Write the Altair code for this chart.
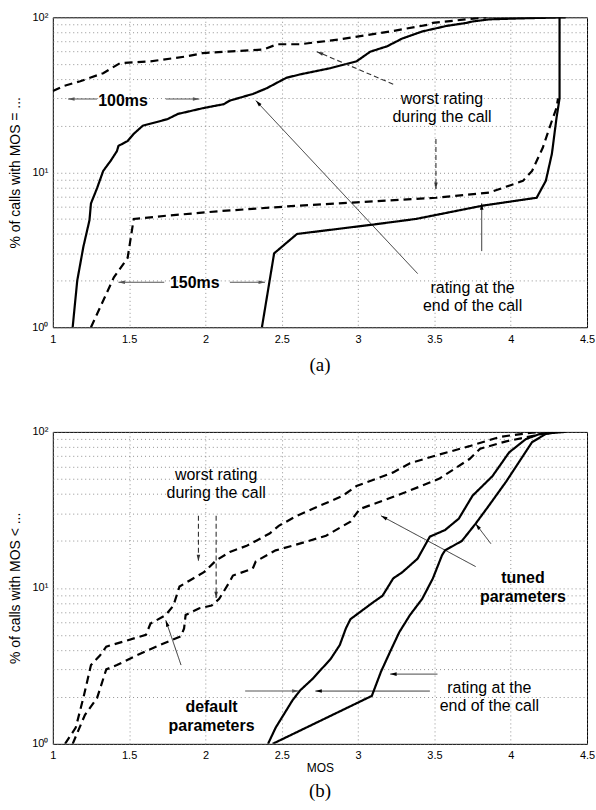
import math
import altair as alt
import pandas as pd

# ---------------- data ----------------
# panel (a)
a_w100_x = [1.0, 1.07, 1.18, 1.33, 1.44, 1.64, 1.88, 1.98, 2.38, 2.47, 2.62, 2.88, 3.21, 3.47, 3.49, 3.71, 3.8, 3.84]
a_w100_y = [33.4, 36, 38.7, 43.6, 50.6, 52, 56, 58.7, 62, 67, 67, 72, 81, 90, 92, 97, 99, 100]

a_e100_x = [1.13, 1.16, 1.2, 1.24, 1.25, 1.29, 1.33, 1.38, 1.42, 1.43, 1.49, 1.53, 1.59, 1.75, 1.82, 1.99,
            2.12, 2.16, 2.31, 2.4, 2.53, 2.62, 2.82, 2.99, 3.08, 3.19, 3.29, 3.42, 3.58, 3.71, 3.75, 3.86, 4.08, 4.36]
a_e100_y = [1, 2.0, 3.3, 4.9, 6.3, 7.9, 10.2, 11.9, 13.7, 14.8, 15.9, 17.7, 20, 22, 23.8, 26,
            27.5, 29, 32, 34.8, 40.7, 42.8, 47, 52, 60, 65, 73, 81, 88, 92, 94, 97, 98.5, 100]

a_w150_x = [1.25, 1.4, 1.49, 1.53, 1.75, 2.08, 2.62, 2.99, 3.51, 3.86, 4.08, 4.14, 4.21, 4.27, 4.3, 4.31]
a_w150_y = [1, 2.1, 2.8, 5.0, 5.25, 5.6, 6.1, 6.4, 6.85, 7.4, 8.8, 10.2, 14.4, 21.5, 26, 30]

a_e150_x = [2.37, 2.45, 2.6, 3.1, 3.38, 3.82, 4.17, 4.23, 4.27, 4.3, 4.32, 4.32]
a_e150_y = [1, 3.0, 4.0, 4.6, 5.0, 6.1, 6.85, 8.8, 13.2, 22.4, 30, 100]

# panel (b)
b_wtun_x = [1.08, 1.15, 1.2, 1.25, 1.31, 1.35, 1.61, 1.64, 1.74, 1.79, 1.83, 1.9, 1.99, 2.07, 2.16, 2.27,
            2.42, 2.48, 2.6, 2.9, 2.99, 3.23, 3.34, 3.51, 3.73, 3.93, 4.14, 4.2]
b_wtun_y = [1, 1.27, 1.97, 3.2, 3.7, 4.2, 5.0, 5.9, 6.7, 7.7, 10.2, 11.2, 12.6, 15, 17, 18.6,
            22.3, 25, 29, 39, 45, 55, 63, 70.6, 81, 93, 99, 100]

b_wdef_x = [1.13, 1.21, 1.29, 1.35, 1.42, 1.55, 1.7, 1.84, 1.86, 1.87, 1.96, 2.04, 2.09, 2.16, 2.18, 2.31,
            2.33, 2.46, 2.6, 2.79, 2.95, 3.01, 3.12, 3.31, 3.53, 3.73, 3.8, 3.97, 4.14, 4.25, 4.3]
b_wdef_y = [1, 1.53, 1.97, 3.0, 3.2, 3.7, 4.3, 4.9, 5.5, 6.7, 7.4, 7.7, 8.5, 11, 12, 13.3,
            14.8, 17.4, 19, 21.6, 26.6, 32, 35, 41, 50, 67, 78, 87, 94, 99, 100]

b_etun_x = [2.41, 2.46, 2.57, 2.62, 2.7, 2.82, 2.88, 2.92, 2.95, 3.1, 3.16, 3.23, 3.29, 3.39, 3.47, 3.57,
            3.66, 3.75, 3.88, 3.99, 4.1, 4.19, 4.36]
b_etun_y = [1, 1.27, 1.9, 2.2, 2.6, 3.5, 4.3, 5.5, 6.3, 8.1, 8.9, 11.5, 12.6, 15.4, 21.3, 23.5,
            27.8, 39, 52, 74, 90, 97, 100]

b_edef_x = [2.44, 3.09, 3.15, 3.21, 3.27, 3.34, 3.42, 3.49, 3.55, 3.57, 3.68, 3.77, 3.86, 3.97, 4.08, 4.14, 4.23, 4.3]
b_edef_y = [1, 2.03, 2.9, 3.9, 5.2, 6.7, 8.5, 11.5, 16.2, 17.4, 20, 25.8, 34, 48, 70, 86, 97, 100]

x_ticks = [1, 1.5, 2, 2.5, 3, 3.5, 4, 4.5]
y_ticks = [1, 2, 3, 4, 5, 6, 7, 8, 9, 10, 20, 30, 40, 50, 60, 70, 80, 90, 100]

# annotations: text, x, y, bold
a_text = ["100ms", "150ms", "worst rating\nduring the call", "rating at the\nend of the call"]
a_text_x = [1.46, 1.93, 3.55, 3.75]
a_text_y = [28.8, 1.92, 29.9, 1.8]
a_text_bold = [True, True, False, False]

b_text = ["worst rating\nduring the call", "default\nparameters", "tuned\nparameters", "rating at the\nend of the call"]
b_text_x = [2.07, 2.04, 4.08, 3.86]
b_text_y = [53, 1.72, 11.5, 2.28]
b_text_bold = [False, True, True, False]

# arrows: tail (x, y) -> head (x2, y2), style
a_arr_x = [1.29, 1.74, 1.73, 2.16, 3.23, 3.51, 3.39, 3.81]
a_arr_y = [29.7, 29.7, 1.95, 1.95, 37, 16.4, 2.22, 3.1]
a_arr_x2 = [1.10, 1.96, 1.43, 2.39, 2.73, 3.51, 2.33, 3.81]
a_arr_y2 = [29.7, 29.7, 1.95, 1.95, 60, 7.8, 29, 6.3]
a_arr_style = ["gray", "gray", "gray", "gray", "dash", "dash", "black", "black"]

b_arr_x = [1.954, 2.07, 2.26, 1.84, 3.52, 3.47, 3.77, 3.87]
b_arr_y = [29, 29, 2.18, 3.2, 2.8, 2.18, 13.7, 19.2]
b_arr_x2 = [1.954, 2.07, 2.61, 1.74, 3.21, 2.72, 3.15, 3.77]
b_arr_y2 = [14.8, 8.6, 2.18, 6.2, 2.8, 2.18, 29, 25.8]
b_arr_style = ["dash", "dash", "gray", "black", "black", "black", "black", "black"]

# ---------------- chart ----------------
W = 536
H_A = 311
H_B = 313
FONT = "Liberation Sans"
SERIF = "Liberation Serif"
XDOM = [1, 4.5]
YDOM = [1, 100]

x_scale = alt.Scale(domain=XDOM, nice=False, zero=False)
y_scale = alt.Scale(type="log", domain=YDOM, nice=False)

y_label_expr = ("datum.value == 1 ? '10\u2070' : datum.value == 10 ? '10\u00b9' : "
                "datum.value == 100 ? '10\u00b2' : ''")

common_axis = dict(grid=True, gridDash=[1, 3], gridColor="#777", gridWidth=0.8,
                   ticks=False, domain=False, labelFont=FONT, labelFontSize=11,
                   labelColor="black", labelFlush=False, labelOverlap=False)


def make_x_axis(title):
    if title:
        return alt.Axis(values=x_ticks, labelExpr="format(datum.value, '~g')", labelPadding=6,
                        title=title, titleFont=FONT, titleFontSize=12, titleFontWeight="normal",
                        titlePadding=2, titleColor="black", **common_axis)
    return alt.Axis(values=x_ticks, labelExpr="format(datum.value, '~g')", labelPadding=6,
                    title=None, **common_axis)


def make_y_axis(title):
    return alt.Axis(values=y_ticks, labelExpr=y_label_expr, labelPadding=5,
                    title=title, titleFont=FONT, titleFontSize=14, titleFontWeight="normal",
                    titlePadding=9, titleColor="black", **common_axis)


def panel(curves, texts, arrows, H, xaxis, yaxis):
    layers = []
    for xs, ys, dashed in curves:
        df = pd.DataFrame({"x": xs, "y": ys, "i": list(range(len(xs)))})
        mark = alt.Chart(df).mark_line(color="black", strokeWidth=2.2,
                                       strokeDash=[8, 5] if dashed else [1, 0],
                                       clip=True)
        layers.append(mark.encode(x=alt.X("x:Q", scale=x_scale, axis=xaxis),
                                  y=alt.Y("y:Q", scale=y_scale, axis=yaxis),
                                  order="i:Q"))
    tx, tt, ty, tb = texts
    tdf = pd.DataFrame({"x": tx, "y": ty, "t": tt, "b": tb})
    for bold in (False, True):
        sub = tdf[tdf["b"] == bold]
        layers.append(alt.Chart(sub).mark_text(font=FONT, fontSize=16, lineBreak="\n",
                                               lineHeight=18.5, align="center", baseline="middle",
                                               fontWeight="bold" if bold else "normal",
                                               color="black").encode(
            x=alt.X("x:Q", scale=x_scale, axis=xaxis),
            y=alt.Y("y:Q", scale=y_scale, axis=yaxis),
            text="t:N"))
    ax, ay, ax2, ay2, st = arrows
    rows = []
    for x1, y1, x2, y2, s in zip(ax, ay, ax2, ay2, st):
        dx = (x2 - x1) / (XDOM[1] - XDOM[0]) * W
        dy = -(math.log10(y2) - math.log10(y1)) / 2.0 * H
        ang = math.degrees(math.atan2(dx, -dy)) % 360
        rows.append({"x": x1, "y": y1, "x2": x2, "y2": y2, "s": s, "ang": ang})
    adf = pd.DataFrame(rows)
    styles = {"gray": dict(color="#555", strokeWidth=1.1, strokeDash=[1, 0]),
              "dash": dict(color="#333", strokeWidth=1.1, strokeDash=[5, 3]),
              "black": dict(color="black", strokeWidth=0.8, strokeDash=[1, 0])}
    for s, sty in styles.items():
        sub = adf[adf["s"] == s]
        if len(sub) == 0:
            continue
        layers.append(alt.Chart(sub).mark_rule(**sty).encode(
            x=alt.X("x:Q", scale=x_scale, axis=xaxis),
            y=alt.Y("y:Q", scale=y_scale, axis=yaxis),
            x2="x2:Q", y2="y2:Q"))
        layers.append(alt.Chart(sub).mark_point(
            shape="M0,0 L0.55,2 L-0.55,2 Z", filled=True, size=42, opacity=1,
            color=sty["color"], strokeWidth=0).encode(
            x=alt.X("x2:Q", scale=x_scale, axis=xaxis),
            y=alt.Y("y2:Q", scale=y_scale, axis=yaxis),
            angle=alt.Angle("ang:Q", scale=None)))
    return alt.layer(*layers).properties(width=W, height=H)


xa = make_x_axis(None)
ya = make_y_axis("% of calls with MOS = ...")
top = panel([(a_w100_x, a_w100_y, True), (a_e100_x, a_e100_y, False),
             (a_w150_x, a_w150_y, True), (a_e150_x, a_e150_y, False)],
            (a_text_x, a_text, a_text_y, a_text_bold),
            (a_arr_x, a_arr_y, a_arr_x2, a_arr_y2, a_arr_style),
            H_A, xa, ya).properties(
    title=alt.TitleParams("(a)", orient="bottom", font=SERIF, fontSize=19,
                          fontWeight="normal", anchor="middle", offset=12, color="black"))

xb = make_x_axis("MOS")
yb = make_y_axis("% of calls with MOS < ...")
bottom = panel([(b_wtun_x, b_wtun_y, True), (b_wdef_x, b_wdef_y, True),
                (b_etun_x, b_etun_y, False), (b_edef_x, b_edef_y, False)],
               (b_text_x, b_text, b_text_y, b_text_bold),
               (b_arr_x, b_arr_y, b_arr_x2, b_arr_y2, b_arr_style),
               H_B, xb, yb).properties(
    title=alt.TitleParams("(b)", orient="bottom", font=SERIF, fontSize=19,
                          fontWeight="normal", anchor="middle", offset=8, color="black"))

chart = alt.vconcat(top, bottom, spacing=49).properties(
    padding={"left": 8, "top": 9, "right": 0, "bottom": 4},
    background="white"
).configure_view(stroke="black", strokeWidth=1)

chart.save("out.html", embed_options={"renderer": "svg", "actions": False})
